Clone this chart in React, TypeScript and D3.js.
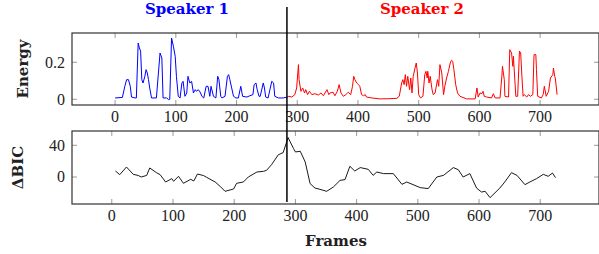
import React from "react";
import { scaleLinear, line } from "d3";

// speaker 1 energy (blue), frames and values
const energyFrames1 = [0, 12, 16, 19, 22, 25, 27, 33, 35, 38, 40, 42, 44, 46, 49, 51, 53, 55, 57, 60, 68, 74, 77, 79, 85, 88, 90, 93, 96, 99, 101, 104, 107, 110, 112, 115, 118, 120, 123, 126, 129, 132, 134, 137, 140, 143, 146, 150, 153, 156, 158, 162, 166, 169, 171, 174, 176, 181, 185, 187, 189, 192, 195, 199, 203, 207, 210, 217, 222, 227, 229, 232, 234, 237, 239, 244, 246, 248, 252, 258, 261, 263, 269, 277, 284];
const energyValues1 = [0.007, 0.01, 0.07, 0.106, 0.106, 0.07, 0.012, 0.007, 0.007, 0.304, 0.277, 0.26, 0.106, 0.088, 0.124, 0.16, 0.142, 0.106, 0.061, 0.007, 0.007, 0.25, 0.223, 0.007, 0.007, -0.002, 0.0, 0.331, 0.286, 0.232, 0.124, 0.016, 0.007, 0.088, 0.097, 0.016, 0.034, 0.124, 0.088, 0.097, 0.034, 0.052, 0.043, 0.052, 0.039, 0.016, 0.007, 0.07, 0.07, 0.016, 0.07, 0.016, 0.007, 0.124, 0.106, 0.016, 0.007, 0.016, 0.124, 0.133, 0.106, 0.061, 0.016, 0.007, 0.007, 0.07, 0.016, 0.012, 0.019, 0.025, 0.079, 0.088, 0.052, 0.016, 0.016, 0.088, 0.061, 0.012, 0.007, 0.097, 0.088, 0.016, 0.007, 0.007, 0.012];

// speaker 2 energy (red)
const energyFrames2 = [284, 286, 291, 296, 299, 302, 303, 306, 309, 312, 314, 317, 320, 324, 329, 335, 339, 343, 349, 352, 354, 359, 362, 366, 369, 372, 376, 380, 384, 388, 391, 393, 395, 398, 401, 403, 406, 409, 412, 414, 423, 436, 450, 464, 468, 472, 474, 476, 478, 480, 482, 485, 487, 489, 491, 494, 496, 498, 500, 503, 507, 510, 512, 514, 515, 517, 519, 522, 524, 527, 531, 533, 535, 538, 541, 543, 546, 549, 552, 554, 556, 558, 561, 564, 568, 579, 593, 596, 598, 601, 604, 606, 608, 612, 620, 623, 626, 634, 637, 638, 641, 642, 648, 650, 653, 655, 656, 660, 663, 666, 668, 670, 672, 674, 678, 681, 684, 688, 690, 693, 694, 696, 702, 705, 707, 710, 714, 717, 721, 722, 724, 725, 728];
const energyValues2 = [0.012, 0.016, 0.012, 0.025, 0.061, 0.187, 0.106, 0.043, 0.061, 0.034, 0.052, 0.025, 0.043, 0.025, 0.03, 0.023, 0.034, 0.019, 0.052, 0.025, 0.034, 0.038, 0.019, 0.043, 0.079, 0.034, 0.016, 0.025, 0.038, 0.025, 0.07, 0.124, 0.106, 0.088, 0.079, 0.07, 0.025, 0.019, 0.025, 0.012, 0.007, 0.002, 0.003, 0.005, 0.016, 0.088, 0.106, 0.079, 0.133, 0.07, 0.124, 0.052, 0.115, 0.034, 0.124, 0.169, 0.196, 0.142, 0.025, 0.007, 0.016, 0.133, 0.151, 0.115, 0.151, 0.088, 0.124, 0.052, 0.025, 0.034, 0.106, 0.07, 0.187, 0.142, 0.025, 0.07, 0.115, 0.151, 0.196, 0.211, 0.205, 0.16, 0.079, 0.034, 0.016, 0.002, 0.002, 0.061, 0.012, 0.034, 0.03, 0.043, 0.016, 0.012, 0.007, 0.03, 0.007, 0.007, 0.124, 0.178, 0.106, 0.016, 0.012, 0.268, 0.25, 0.178, 0.232, 0.016, 0.016, 0.26, 0.25, 0.124, 0.016, 0.025, 0.012, 0.025, 0.016, 0.025, 0.241, 0.241, 0.16, 0.016, 0.007, 0.025, 0.07, 0.016, 0.043, 0.115, 0.133, 0.169, 0.124, 0.115, 0.025];

// delta BIC curve
const bicFrames = [6, 13, 24, 35, 43, 48, 57, 62, 73, 79, 88, 98, 101, 109, 117, 129, 134, 140, 150, 155, 169, 177, 185, 199, 204, 215, 223, 237, 248, 253, 261, 272, 280, 288, 297, 300, 308, 316, 324, 332, 340, 351, 362, 373, 381, 389, 397, 406, 419, 427, 433, 444, 460, 474, 482, 504, 517, 531, 542, 558, 566, 574, 585, 596, 604, 610, 618, 634, 642, 653, 662, 675, 683, 694, 705, 713, 720, 725];
const bicValues = [7.6, 3, 12.6, 3.4, 2, 0, 2, 11.4, 5.5, 3, -6.3, -2, -5.4, 0.9, -7.9, -2.9, -5, 3.8, 1.8, -0.4, -6.3, -11.7, -18, -15.1, -7.9, -6.3, 0, 6.3, 7.2, 8.5, 15.6, 28, 30.8, 49.7, 35.8, 31.6, 32.4, 19, -8.3, -13.9, -15.5, -18, -12.6, -4.2, -3.3, 13.5, 7.6, 11.9, 9.7, 2.1, 6.3, 4.3, 4.3, -9.2, -6.3, -13.4, -14.6, 0, 2.1, 11.9, 9.3, 0, 4.3, -13.9, -18.9, -18, -26, -13.9, -6.3, 5.5, 2.1, -9.6, -6.3, -2, 3.4, 0.9, 5, -0.8];

const changePoint = 283;
const xTicks = [0, 100, 200, 300, 400, 500, 600, 700];
const energyTicks = [0, 0.2];
const bicTicks = [0, 40];

const W = 599;
const H = 254;
const left = 72;
const right = 599;
const top1 = 33, bottom1 = 105;
const top2 = 131, bottom2 = 204;
const tickFont = "'Liberation Serif', serif";
const labelFont = "'DejaVu Serif', serif";

export default function App() {
  const x1 = scaleLinear().domain([-71, 797]).range([left, right]);
  const x2 = scaleLinear().domain([-65, 796]).range([left, right]);
  const y1 = scaleLinear().domain([-0.031, 0.358]).range([bottom1, top1]);
  const y2 = scaleLinear().domain([-34, 58]).range([bottom2, top2]);

  const path1 = line<number>()
    .x((d, i) => x1(energyFrames1[i]))
    .y((d) => y1(d))(energyValues1);
  const path2 = line<number>()
    .x((d, i) => x1(energyFrames2[i]))
    .y((d) => y1(d))(energyValues2);
  const pathBic = line<number>()
    .x((d, i) => x2(bicFrames[i]))
    .y((d) => y2(d))(bicValues);

  const tickLen = 5;
  const tickColor = "#9a9a9a";

  const panel = (x: any, y: any, yt: number[], t: number, b: number) => (
    <g>
      {xTicks.map((v) => (
        <g key={"x" + v}>
          <line x1={x(v)} x2={x(v)} y1={b} y2={b - tickLen} stroke={tickColor} />
          <line x1={x(v)} x2={x(v)} y1={t} y2={t + tickLen} stroke={tickColor} />
          <text x={x(v)} y={b + 17} textAnchor="middle" fontFamily={tickFont} fontSize={16} fill="#222">
            {v}
          </text>
        </g>
      ))}
      {yt.map((v) => (
        <g key={"y" + v}>
          <line x1={left} x2={left + tickLen} y1={y(v)} y2={y(v)} stroke={tickColor} />
          <line x1={right} x2={right - tickLen} y1={y(v)} y2={y(v)} stroke={tickColor} />
          <text x={left - 7} y={y(v)} dy="0.33em" textAnchor="end" fontFamily={tickFont} fontSize={16} fill="#222">
            {String(v)}
          </text>
        </g>
      ))}
      <rect x={left} y={t} width={right - left} height={b - t} fill="none" stroke="#333" strokeWidth={1.2} />
    </g>
  );

  return (
    <svg width={W} height={H} style={{ position: "absolute", left: 0, top: 0, background: "#fff" }}>
      {panel(x1, y1, energyTicks, top1, bottom1)}
      {panel(x2, y2, bicTicks, top2, bottom2)}

      <path d={path1 || ""} fill="none" stroke="#0000ff" strokeWidth={1} />
      <path d={path2 || ""} fill="none" stroke="#ff0000" strokeWidth={1} />
      <path d={pathBic || ""} fill="none" stroke="#000" strokeWidth={0.9} />

      <line x1={x1(changePoint)} x2={x1(changePoint)} y1={7} y2={bottom2 - 2} stroke="#000" strokeWidth={1.5} />

      <text x={187} y={14} textAnchor="middle" fontFamily={labelFont} fontWeight="bold" fontSize={15} fill="#0000ff">
        Speaker 1
      </text>
      <text x={422} y={14} textAnchor="middle" fontFamily={labelFont} fontWeight="bold" fontSize={15} fill="#ff0000">
        Speaker 2
      </text>
      <text transform={`translate(28, ${(top1 + bottom1) / 2}) rotate(-90)`} textAnchor="middle" fontFamily={labelFont} fontWeight="bold" fontSize={15} fill="#222">
        Energy
      </text>
      <text transform={`translate(23, ${(top2 + bottom2) / 2}) rotate(-90)`} textAnchor="middle" fontFamily={labelFont} fontWeight="bold" fontSize={15} fill="#222">
        ΔBIC
      </text>
      <text x={336} y={246} textAnchor="middle" fontFamily={labelFont} fontWeight="bold" fontSize={15} fill="#222">
        Frames
      </text>
    </svg>
  );
}
